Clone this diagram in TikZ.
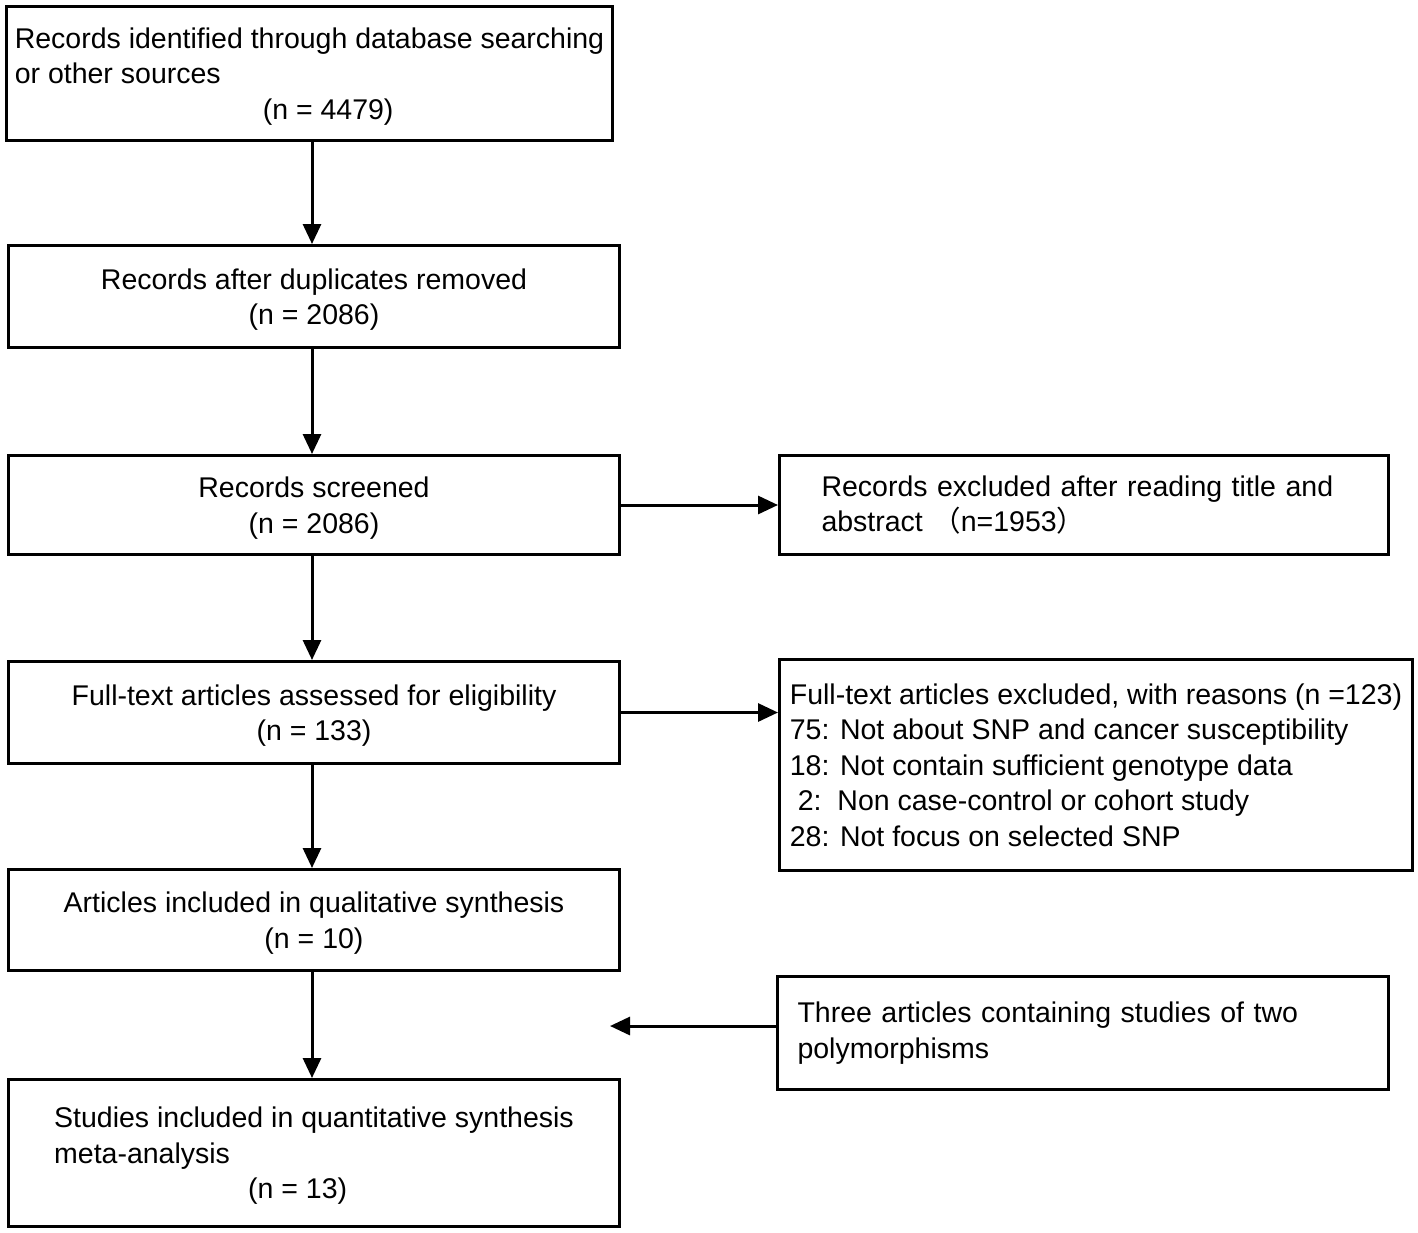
\documentclass[tikz,border=0pt]{standalone}
\usepackage{fontspec}
\setmainfont{Liberation Sans}
\newfontfamily\cjk{Noto Sans CJK SC}
\usetikzlibrary{arrows.meta}
\begin{document}
\begin{tikzpicture}[>={Triangle[length=20pt,width=18pt]}, x=1pt, y=-1pt,
        font=\fontsize{28.5}{35.5}\selectfont,
        box/.style={draw, line width=3pt, inner sep=0pt, align=center},
        linebox/.style={box, text depth=0pt},
        flow/.style={->, line width=3pt}]
    \useasboundingbox (0,0) rectangle (1418,1232);
    \def\xm{312} % main column
    \coordinate (col) at (\xm,0);
    % left column
    \node[linebox, minimum width=606, minimum height=134, align=left] (ident) at (309.5,73.5)
        {Records identified through database searching\\or other sources\\\hspace*{248pt}(n = 4479)};
    \node[linebox, minimum width=611, minimum height=102] (dup) at (314,296.5)
        {Records after duplicates removed\\(n = 2086)};
    \node[linebox, minimum width=611, minimum height=99] (screen) at (314,505)
        {Records screened\\(n = 2086)};
    \node[linebox, minimum width=611, minimum height=102] (full) at (314,712.5)
        {Full-text articles assessed for eligibility\\(n = 133)};
    \node[linebox, minimum width=611, minimum height=101] (qual) at (314,920)
        {Articles included in qualitative synthesis\\(n = 10)};
    \node[linebox, minimum width=611, minimum height=147, align=left] (quant) at (314,1153)
        {Studies included in quantitative synthesis\\meta-analysis\\\hspace*{194pt}(n = 13)};
    % right column
    \node[box, minimum height=99, inner xsep=42pt, text width=525pt, align=left] (excl1) at (1084,505)
        {Records excluded after reading title and\\abstract {\cjk（}n=1953{\cjk）}};
    \node[linebox, minimum width=633, minimum height=211, align=left] (excl2) at (1096,765)
        {Full-text articles excluded, with reasons (n =123)\\
         75: Not about SNP and cancer susceptibility\\
         18: Not contain sufficient genotype data\\
         \hspace*{0.278em}2:\hspace*{0.556em}Non case-control or cohort study\\
         28: Not focus on selected SNP};
    \node[box, minimum height=113, inner xsep=20pt, text width=571pt, align=left] (three) at (1083,1033)
        {Three articles containing studies of two\\polymorphisms};
    \coordinate (tip) at (610,1026);
    % connectors
    \draw[flow] (ident.south -| col) -- (dup.north -| col);
    \draw[flow] (dup.south -| col) -- (screen.north -| col);
    \draw[flow] (screen.south -| col) -- (full.north -| col);
    \draw[flow] (full.south -| col) -- (qual.north -| col);
    \draw[flow] (qual.south -| col) -- (quant.north -| col);
    \draw[flow] (screen.east) -- (excl1.west);
    \draw[flow] (full.east) -- (full.east -| excl2.west);
    \draw[flow] (three.west |- tip) -- (tip);
\end{tikzpicture}
\end{document}
